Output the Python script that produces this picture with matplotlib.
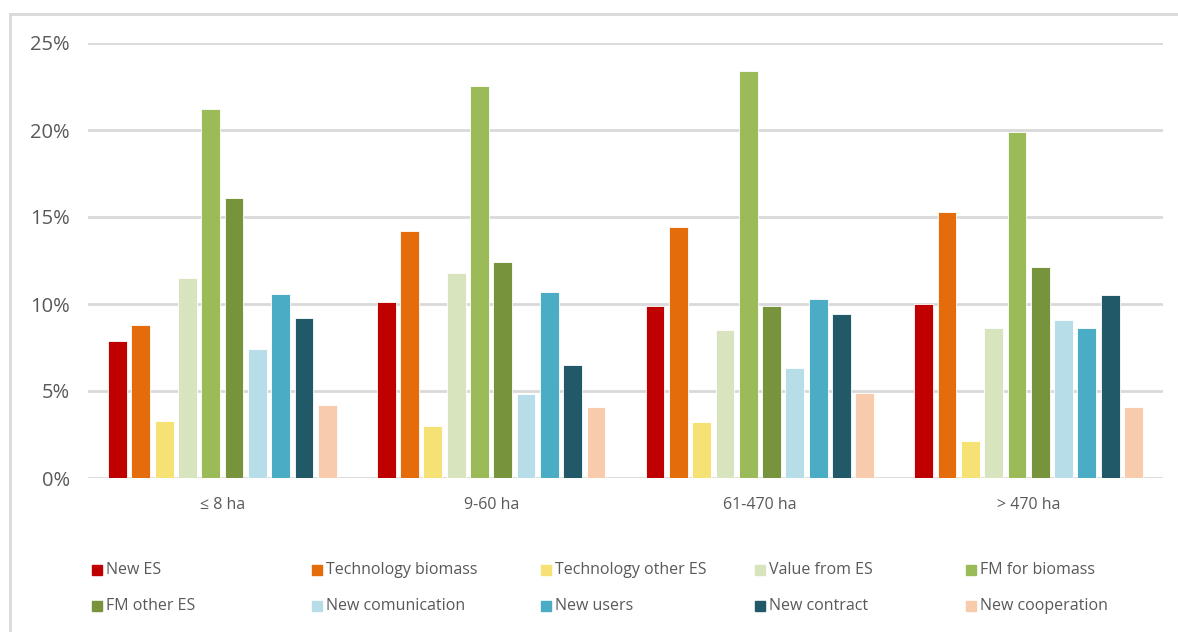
import numpy as np
import matplotlib.pyplot as plt
from matplotlib.lines import Line2D
from matplotlib.patches import Rectangle

plt.rcParams['font.family'] = ['Open Sans', 'DejaVu Sans']

# farm size classes
categories = ['≤ 8 ha', '9-60 ha', '61-470 ha', '> 470 ha']

series_names = ['New ES', 'Technology biomass', 'Technology other ES', 'Value from ES',
                'FM for biomass', 'FM other ES', 'New comunication', 'New users',
                'New contract', 'New cooperation']

# share per size class (%)
new_es = [7.9, 10.1, 9.9, 10.0]
tech_biomass = [8.8, 14.2, 14.4, 15.3]
tech_other_es = [3.3, 3.0, 3.2, 2.1]
value_from_es = [11.5, 11.8, 8.5, 8.6]
fm_biomass = [21.2, 22.5, 23.4, 19.9]
fm_other_es = [16.1, 12.4, 9.9, 12.1]
new_comunication = [7.4, 4.8, 6.3, 9.1]
new_users = [10.6, 10.7, 10.3, 8.6]
new_contract = [9.2, 6.5, 9.4, 10.5]
new_cooperation = [4.2, 4.1, 4.9, 4.1]

colors = ['#C00000', '#E46C0A', '#F6E274', '#D7E4BD', '#9BBB59',
          '#77933C', '#B7DEE8', '#4BACC6', '#215968', '#F8CBAD']

values = [new_es, tech_biomass, tech_other_es, value_from_es, fm_biomass,
          fm_other_es, new_comunication, new_users, new_contract, new_cooperation]

W, H = 1178, 632
fig = plt.figure(figsize=(W / 100, H / 100), dpi=100)
ax = fig.add_axes([88 / W, 1 - 478 / H, (1163 - 88) / W, (478 - 43) / H])

# chart frame: top and left edges only (the rest runs off the image)
fig.lines.append(Line2D([10 / W, 1.0], [1 - 14 / H] * 2, transform=fig.transFigure,
                        color='#d9d9d9', linewidth=2))
fig.lines.append(Line2D([10 / W] * 2, [0.0, 1 - 14 / H], transform=fig.transFigure,
                        color='#d9d9d9', linewidth=2))

x = np.arange(len(categories))
slot = 0.0867
bar_w = 0.0700
for i, (vals, c) in enumerate(zip(values, colors)):
    ax.bar(x + (i - 4.5) * slot, vals, width=bar_w, color=c,
           edgecolor='white', linewidth=0.6, zorder=3)

ax.set_xlim(-0.5, len(categories) - 0.5)
ax.set_ylim(0, 25)
ax.set_yticks(np.arange(0, 26, 5))
ax.set_yticklabels([f'{v}%' for v in range(0, 26, 5)])
ax.set_xticks(x)
ax.set_xticklabels(categories)
ax.grid(axis='y', color='#d9d9d9', linewidth=2, zorder=0)
ax.set_axisbelow(True)
for s in ax.spines.values():
    s.set_visible(False)
ax.tick_params(axis='y', length=0, labelsize=14.5, labelcolor='#595959', pad=13)
ax.tick_params(axis='x', length=0, labelsize=11.5, labelcolor='#595959', pad=14)

# legend laid out in two rows of five
col_x = [92, 312, 541, 755, 966]
row_y = [570, 606]
for i, (name, c) in enumerate(zip(series_names, colors)):
    px = col_x[i % 5]
    py = row_y[i // 5]
    fig.patches.append(Rectangle((px / W, 1 - (py + 5) / H), 10 / W, 10 / H,
                                 transform=fig.transFigure, color=c))
    fig.text((px + 14) / W, 1 - py / H, name, fontsize=11.5, color='#595959',
             va='center', ha='left')

fig.savefig('out.png', dpi=100)
